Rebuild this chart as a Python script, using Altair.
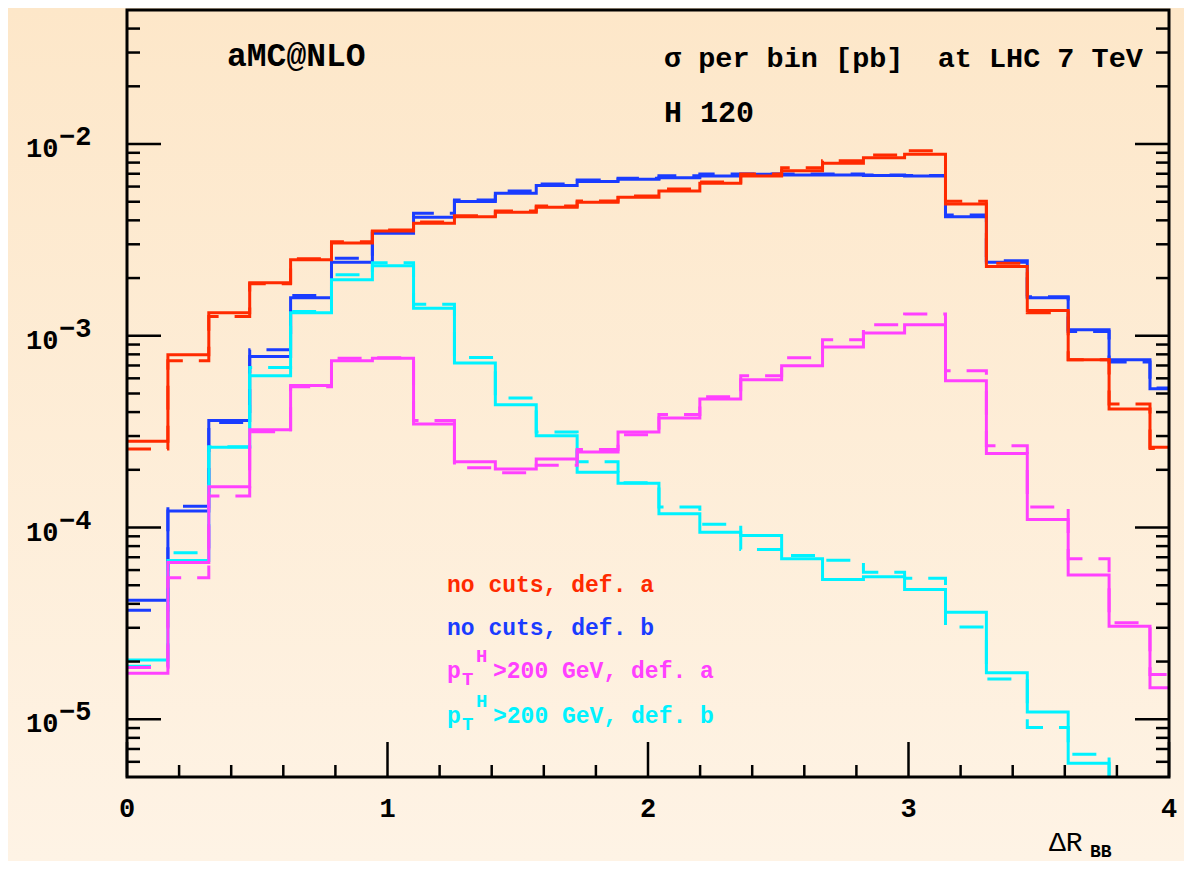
import altair as alt
import pandas as pd

W, H = 1042, 767
PAD_L, PAD_T, PAD_R, PAD_B = 119, 2, 15, 84
FONT = "Liberation Mono"

# ---- data ---------------------------------------------------------------
bin_edges = [0.0, 0.157, 0.314, 0.471, 0.628, 0.785, 0.942, 1.100, 1.257,
             1.414, 1.571, 1.728, 1.885, 2.042, 2.199, 2.356, 2.513, 2.670,
             2.827, 2.985, 3.142, 3.299, 3.456, 3.613, 3.770, 3.927, 4.084]

red_solid = [2.82e-4, 7.96e-4, 1.32e-3, 1.89e-3, 2.49e-3, 3.05e-3, 3.52e-3,
             3.86e-3, 4.18e-3, 4.41e-3, 4.68e-3, 4.97e-3, 5.28e-3, 5.69e-3,
             6.24e-3, 6.81e-3, 7.26e-3, 7.93e-3, 8.48e-3, 8.84e-3, 4.87e-3,
             2.30e-3, 1.355e-3, 7.50e-4, 4.15e-4, 2.62e-4]
red_dash = [2.57e-4, 7.41e-4, 1.26e-3, 1.87e-3, 2.52e-3, 3.09e-3, 3.56e-3,
            3.92e-3, 4.22e-3, 4.48e-3, 4.75e-3, 5.05e-3, 5.36e-3, 5.83e-3,
            6.34e-3, 6.98e-3, 7.53e-3, 8.19e-3, 8.76e-3, 9.23e-3, 5.03e-3,
            2.39e-3, 1.32e-3, 7.50e-4, 4.41e-4, 2.58e-4]
blue_solid = [4.17e-5, 1.22e-4, 3.62e-4, 7.80e-4, 1.58e-3, 2.42e-3, 3.43e-3,
              4.15e-3, 5.01e-3, 5.53e-3, 6.07e-3, 6.37e-3, 6.55e-3, 6.68e-3,
              6.81e-3, 6.95e-3, 6.89e-3, 6.89e-3, 6.85e-3, 6.81e-3, 4.18e-3,
              2.42e-3, 1.58e-3, 1.075e-3, 7.50e-4, 5.30e-4]
blue_dash = [3.70e-5, 1.29e-4, 3.53e-4, 8.45e-4, 1.62e-3, 2.54e-3, 3.48e-3,
             4.36e-3, 5.11e-3, 5.69e-3, 6.19e-3, 6.49e-3, 6.63e-3, 6.84e-3,
             6.98e-3, 6.98e-3, 6.98e-3, 6.98e-3, 6.89e-3, 6.85e-3, 4.27e-3,
             2.46e-3, 1.60e-3, 1.053e-3, 7.30e-4, 5.34e-4]
mag_solid = [1.74e-5, 6.58e-5, 1.63e-4, 3.24e-4, 5.50e-4, 7.41e-4, 7.64e-4,
             3.47e-4, 2.20e-4, 2.02e-4, 2.28e-4, 2.48e-4, 3.15e-4, 3.73e-4,
             4.68e-4, 5.90e-4, 6.98e-4, 8.73e-4, 1.033e-3, 1.141e-3, 5.83e-4,
             2.43e-4, 1.10e-4, 5.65e-5, 3.06e-5, 1.46e-5]
mag_dash = [1.86e-5, 5.47e-5, 1.46e-4, 3.16e-4, 5.42e-4, 7.64e-4, 7.68e-4,
            3.62e-4, 2.05e-4, 1.93e-4, 2.11e-4, 2.55e-4, 3.05e-4, 3.88e-4,
            4.81e-4, 6.19e-4, 7.68e-4, 9.53e-4, 1.141e-3, 1.30e-3, 6.58e-4,
            2.67e-4, 1.28e-4, 6.87e-5, 3.19e-5, 1.71e-5]
cyan_solid = [2.04e-5, 6.73e-5, 2.62e-4, 6.19e-4, 1.32e-3, 1.96e-3, 2.32e-3,
              1.39e-3, 7.21e-4, 4.37e-4, 3.01e-4, 1.94e-4, 1.70e-4, 1.18e-4,
              9.46e-5, 9.08e-5, 6.87e-5, 5.36e-5, 5.53e-5, 4.75e-5, 3.62e-5,
              1.75e-5, 1.09e-5, 5.90e-6, 3.0e-6, 2.0e-6]
cyan_dash = [1.89e-5, 7.38e-5, 2.64e-4, 6.84e-4, 1.34e-3, 2.08e-3, 2.40e-3,
             1.46e-3, 7.71e-4, 4.74e-4, 3.15e-4, 2.20e-4, 1.71e-4, 1.28e-4,
             1.04e-4, 7.68e-5, 7.15e-5, 6.76e-5, 5.85e-5, 5.44e-5, 3.03e-5,
             1.62e-5, 9.06e-6, 6.58e-6, 3.0e-6, 2.0e-6]

RED, BLUE, MAG, CYAN = "#ff2a00", "#1a3cff", "#ff40ff", "#00f2ff"

legend_labels = ["no cuts, def. a", "no cuts, def. b",
                 ">200 GeV, def. a", ">200 GeV, def. b"]

y_major = [1e-5, 1e-4, 1e-3, 1e-2]
y_major_exp = ["\u22125", "\u22124", "\u22123", "\u22122"]
y_minor = [6e-6, 7e-6, 8e-6, 9e-6,
           2e-5, 3e-5, 4e-5, 5e-5, 6e-5, 7e-5, 8e-5, 9e-5,
           2e-4, 3e-4, 4e-4, 5e-4, 6e-4, 7e-4, 8e-4, 9e-4,
           2e-3, 3e-3, 4e-3, 5e-3, 6e-3, 7e-3, 8e-3, 9e-3,
           2e-2, 3e-2, 4e-2]
x_major = [0, 1, 2, 3, 4]
x_minor = [0.2, 0.4, 0.6, 0.8, 1.2, 1.4, 1.6, 1.8, 2.2, 2.4, 2.6, 2.8,
           3.2, 3.4, 3.6, 3.8]

# ---- scales ---------------------------------------------------------------
xs = alt.Scale(domain=[0, 4], nice=False, zero=False)
ys = alt.Scale(type="log", domain=[5e-6, 5e-2], nice=False)

one = pd.DataFrame({"k": [0]})


def step_df(vals):
    xs_ = list(bin_edges[:len(vals)]) + [bin_edges[len(vals)]]
    ys_ = list(vals) + [vals[-1]]
    return pd.DataFrame({"x": xs_, "y": ys_})


def hist(vals, color, dashed=False):
    kw = dict(interpolate="step-after", clip=True, strokeWidth=3, color=color)
    if dashed:
        kw["strokeDash"] = [24, 16]
    return alt.Chart(step_df(vals)).mark_line(**kw).encode(
        x=alt.X("x:Q", scale=xs, axis=None),
        y=alt.Y("y:Q", scale=ys, axis=None),
    )


def label(txt, x, y, size, color="black", weight="bold"):
    return alt.Chart(one).mark_text(
        text=txt, align="left", baseline="alphabetic", font=FONT,
        fontSize=size, fontWeight=weight, color=color
    ).encode(x=alt.value(x), y=alt.value(y))


layers = []

# background gradient covering the whole chart
bg = alt.Chart(one).mark_rect(
    fill=alt.LinearGradient(
        gradient="linear",
        stops=[alt.GradientStop(color="#fde7c9", offset=0),
               alt.GradientStop(color="#fef3e5", offset=1)],
        x1=0, x2=0, y1=0, y2=1),
    clip=False,
).encode(x=alt.value(-PAD_L), x2=alt.value(W + PAD_R),
         y=alt.value(-PAD_T), y2=alt.value(H + PAD_B))
layers.append(bg)

# histograms
layers += [hist(blue_solid, BLUE), hist(blue_dash, BLUE, True),
           hist(red_solid, RED), hist(red_dash, RED, True),
           hist(cyan_solid, CYAN), hist(cyan_dash, CYAN, True),
           hist(mag_solid, MAG), hist(mag_dash, MAG, True)]

# ticks
ymaj = pd.DataFrame({"v": y_major, "e": y_major_exp})
ymin = pd.DataFrame({"v": y_minor})
xmaj = pd.DataFrame({"v": x_major, "t": [str(v) for v in x_major]})
xmin = pd.DataFrame({"v": x_minor})
TW = 2.5
for df, ln in [(ymaj, 34), (ymin, 13)]:
    layers.append(alt.Chart(df).mark_rule(color="black", strokeWidth=TW).encode(
        y=alt.Y("v:Q", scale=ys, axis=None), x=alt.value(0), x2=alt.value(ln)))
    layers.append(alt.Chart(df).mark_rule(color="black", strokeWidth=TW).encode(
        y=alt.Y("v:Q", scale=ys, axis=None), x=alt.value(W), x2=alt.value(W - ln)))
for df, ln in [(xmaj, 35), (xmin, 12)]:
    layers.append(alt.Chart(df).mark_rule(color="black", strokeWidth=TW).encode(
        x=alt.X("v:Q", scale=xs, axis=None), y=alt.value(H), y2=alt.value(H - ln)))

# frame
layers.append(alt.Chart(one).mark_rect(
    filled=False, stroke="black", strokeWidth=3, clip=False
).encode(x=alt.value(0), x2=alt.value(W), y=alt.value(0), y2=alt.value(H)))

# y tick labels (10^-n)
layers.append(alt.Chart(ymaj).mark_text(
    text="10", align="left", baseline="alphabetic", font=FONT, fontSize=27,
    fontWeight="bold", dy=13
).encode(y=alt.Y("v:Q", scale=ys, axis=None), x=alt.value(-101)))
layers.append(alt.Chart(ymaj).mark_text(
    align="left", baseline="alphabetic", font=FONT, fontSize=27,
    fontWeight="bold", dy=1
).encode(y=alt.Y("v:Q", scale=ys, axis=None), x=alt.value(-68), text="e:N"))

# x tick labels
layers.append(alt.Chart(xmaj).mark_text(
    align="center", baseline="alphabetic", font=FONT, fontSize=27,
    fontWeight="bold"
).encode(x=alt.X("v:Q", scale=xs, axis=None), y=alt.value(H + 40), text="t:N"))

# x title  ΔR_BB
layers.append(label("\u0394R", 922, H + 74, 28, weight="normal"))
layers.append(label("BB", 963, H + 80, 18))

# annotations
layers.append(label("aMC@NLO", 100, 56, 33))
layers.append(label("\u03c3 per bin [pb]\u00a0\u00a0at LHC 7 TeV", 537, 57, 28.5))
layers.append(label("H 120", 537, 112, 30))

# legend texts
layers.append(label(legend_labels[0], 320, 582, 23, RED))
layers.append(label(legend_labels[1], 320, 625, 23, BLUE))
for col, txt, base in [(MAG, legend_labels[2], 668), (CYAN, legend_labels[3], 713)]:
    layers.append(label("p", 320, base, 23, col))
    layers.append(label("T", 335, base + 7, 19, col))
    layers.append(label("H", 349, base - 16, 19, col))
    layers.append(label(txt, 366, base, 23, col))

chart = alt.layer(*layers).properties(
    width=W, height=H,
    autosize=alt.AutoSizeParams(type="none"),
    padding={"left": PAD_L, "top": PAD_T, "right": PAD_R, "bottom": PAD_B},
).configure_view(strokeWidth=0).configure(background="#fdedd6")

chart.save("out.html", embed_options={"renderer": "svg", "actions": False})
